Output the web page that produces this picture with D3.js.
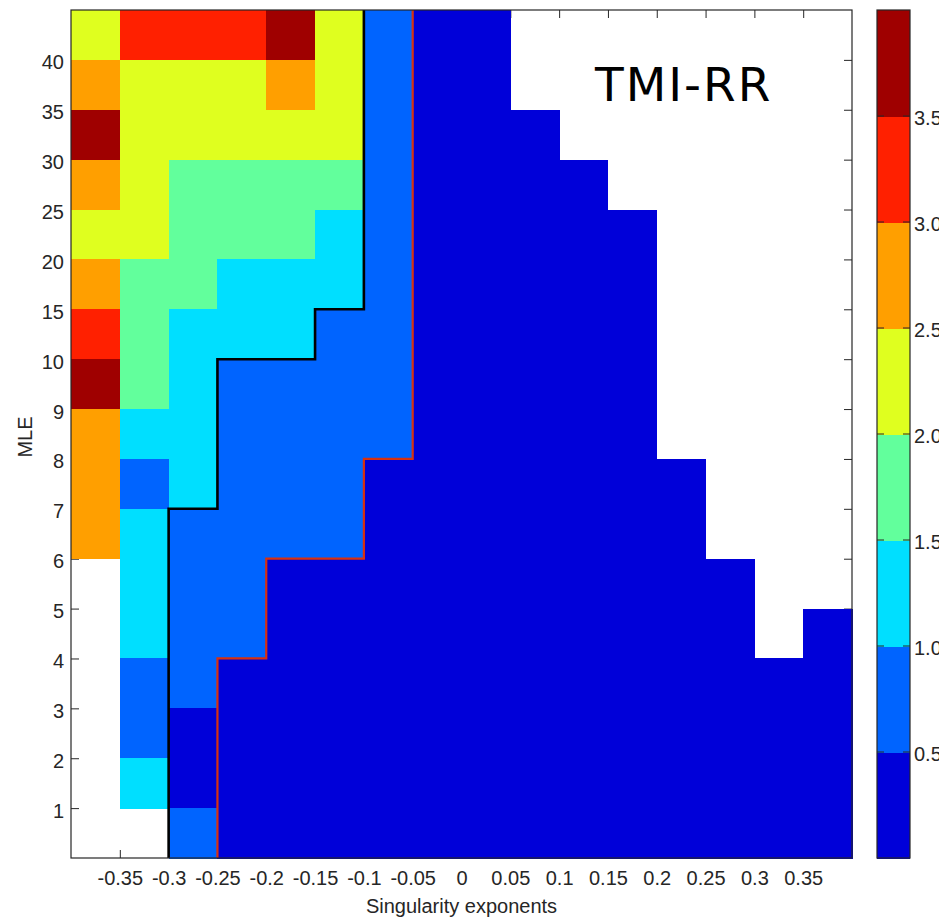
<!DOCTYPE html>
<html>
<head>
<meta charset="utf-8">
<script src="https://cdn.jsdelivr.net/npm/d3@7/dist/d3.min.js"></script>
<style>
  body { margin: 0; background: #ffffff; }
  svg text { font-family: "Liberation Sans", Arial, Helvetica, sans-serif; fill: #262626; }
</style>
</head>
<body>
<svg class="svg-content" width="939" height="920"></svg>
<script>
// column starts (singularity exponent bins, 0.05 wide)
const binStarts = [-0.4, -0.35, -0.3, -0.25, -0.2, -0.15, -0.1, -0.05, 0, 0.05, 0.1, 0.15, 0.2, 0.25, 0.3, 0.35];
const binWidth = 0.05;
const xTicks = [-0.35, -0.3, -0.25, -0.2, -0.15, -0.1, -0.05, 0, 0.05, 0.1, 0.15, 0.2, 0.25, 0.3, 0.35];

// MLE rows, tick labels sit on row boundaries 1..16
const yTickLabels = ["1", "2", "3", "4", "5", "6", "7", "8", "9", "10", "15", "20", "25", "30", "35", "40"];

// cell values, top row first (null = no data)
const cellRows = [
  [2.25, 3.25, 3.25, 3.25, 3.75, 2.25, 0.75, 0.25, 0.25, null, null, null, null, null, null, null],
  [2.75, 2.25, 2.25, 2.25, 2.75, 2.25, 0.75, 0.25, 0.25, null, null, null, null, null, null, null],
  [3.75, 2.25, 2.25, 2.25, 2.25, 2.25, 0.75, 0.25, 0.25, 0.25, null, null, null, null, null, null],
  [2.75, 2.25, 1.75, 1.75, 1.75, 1.75, 0.75, 0.25, 0.25, 0.25, 0.25, null, null, null, null, null],
  [2.25, 2.25, 1.75, 1.75, 1.75, 1.25, 0.75, 0.25, 0.25, 0.25, 0.25, 0.25, null, null, null, null],
  [2.75, 1.75, 1.75, 1.25, 1.25, 1.25, 0.75, 0.25, 0.25, 0.25, 0.25, 0.25, null, null, null, null],
  [3.25, 1.75, 1.25, 1.25, 1.25, 0.75, 0.75, 0.25, 0.25, 0.25, 0.25, 0.25, null, null, null, null],
  [3.75, 1.75, 1.25, 0.75, 0.75, 0.75, 0.75, 0.25, 0.25, 0.25, 0.25, 0.25, null, null, null, null],
  [2.75, 1.25, 1.25, 0.75, 0.75, 0.75, 0.75, 0.25, 0.25, 0.25, 0.25, 0.25, null, null, null, null],
  [2.75, 0.75, 1.25, 0.75, 0.75, 0.75, 0.25, 0.25, 0.25, 0.25, 0.25, 0.25, 0.25, null, null, null],
  [2.75, 1.25, 0.75, 0.75, 0.75, 0.75, 0.25, 0.25, 0.25, 0.25, 0.25, 0.25, 0.25, null, null, null],
  [null, 1.25, 0.75, 0.75, 0.25, 0.25, 0.25, 0.25, 0.25, 0.25, 0.25, 0.25, 0.25, 0.25, null, null],
  [null, 1.25, 0.75, 0.75, 0.25, 0.25, 0.25, 0.25, 0.25, 0.25, 0.25, 0.25, 0.25, 0.25, null, 0.25],
  [null, 0.75, 0.75, 0.25, 0.25, 0.25, 0.25, 0.25, 0.25, 0.25, 0.25, 0.25, 0.25, 0.25, 0.25, 0.25],
  [null, 0.75, 0.25, 0.25, 0.25, 0.25, 0.25, 0.25, 0.25, 0.25, 0.25, 0.25, 0.25, 0.25, 0.25, 0.25],
  [null, 1.25, 0.25, 0.25, 0.25, 0.25, 0.25, 0.25, 0.25, 0.25, 0.25, 0.25, 0.25, 0.25, 0.25, 0.25],
  [null, null, 0.75, 0.25, 0.25, 0.25, 0.25, 0.25, 0.25, 0.25, 0.25, 0.25, 0.25, 0.25, 0.25, 0.25]
];

const jetColors = ["#0000d9", "#0064ff", "#00dfff", "#62ff9c", "#dfff1f", "#ff9f00", "#ff2000", "#9f0000"];
const colorTicks = [0.5, 1.0, 1.5, 2.0, 2.5, 3.0, 3.5];

// boundary lines (x in exponent units, y in row units)
const blackX = [-0.3, -0.3, -0.25, -0.25, -0.15, -0.15, -0.1, -0.1];
const blackY = [0, 7, 7, 10, 10, 11, 11, 17];
const redX = [-0.25, -0.25, -0.2, -0.2, -0.1, -0.1, -0.05, -0.05];
const redY = [0, 4, 4, 6, 6, 8, 8, 17];

const plotLeft = 71, plotRight = 852, plotTop = 10, plotBottom = 858;
const nRows = cellRows.length;

let svg = d3.select(".svg-content");

let x = d3.scaleLinear()
          .domain([-0.4, 0.4])
          .range([plotLeft, plotRight]);

let y = d3.scaleLinear()
          .domain([0, nRows])
          .range([plotBottom, plotTop]);

let color = d3.scaleQuantize()
              .domain([0, 4])
              .range(jetColors);

let yTickValues = d3.range(1, nRows);

// ticks go under the cells, like matlab's bottom layer
svg.append("g")
   .attr("transform", "translate(0," + plotBottom + ")")
   .call(d3.axisBottom(x)
           .tickValues(xTicks)
           .tickSizeInner(-8)
           .tickSizeOuter(0)
           .tickPadding(13)
           .tickFormat(d => {
             return String(+d.toFixed(2));
           }))
   .call(g => g.select(".domain").remove())
   .attr("font-size", 20)
   .attr("font-family", null)
   .attr("color", "#262626");

svg.append("g")
   .attr("transform", "translate(" + plotLeft + ",0)")
   .call(d3.axisLeft(y)
           .tickValues(yTickValues)
           .tickSizeInner(-8)
           .tickSizeOuter(0)
           .tickPadding(7)
           .tickFormat((d, i) => {
             return yTickLabels[i];
           }))
   .call(g => g.select(".domain").remove())
   .call(g => g.selectAll("text").attr("dy", "0.45em"))
   .attr("font-size", 20)
   .attr("font-family", null)
   .attr("color", "#262626");

svg.append("g")
   .attr("transform", "translate(0," + plotTop + ")")
   .call(d3.axisTop(x)
           .tickValues(xTicks)
           .tickSizeInner(-8)
           .tickSizeOuter(0)
           .tickFormat(""))
   .call(g => g.select(".domain").remove())
   .attr("color", "#262626");

svg.append("g")
   .attr("transform", "translate(" + plotRight + ",0)")
   .call(d3.axisRight(y)
           .tickValues(yTickValues)
           .tickSizeInner(-8)
           .tickSizeOuter(0)
           .tickFormat(""))
   .call(g => g.select(".domain").remove())
   .attr("color", "#262626");

let cells = [];
cellRows.forEach((row, i) => {
  row.forEach((value, j) => {
    if (value !== null) {
      cells.push({ row: nRows - 1 - i, start: binStarts[j], value: value });
    }
  });
});

svg.append("g")
   .attr("shape-rendering", "crispEdges")
   .selectAll("rect")
   .data(cells)
   .enter()
   .append("rect")
   .attr("x", d => {
     return x(d["start"]);
   })
   .attr("y", d => {
     return y(d["row"] + 1);
   })
   .attr("width", d => {
     return x(d["start"] + binWidth) - x(d["start"]) + 0.5;
   })
   .attr("height", d => {
     return y(d["row"]) - y(d["row"] + 1) + 0.5;
   })
   .attr("fill", d => {
     return color(d["value"]);
   });

let line = d3.line()
             .x(d => x(d[0]))
             .y(d => y(d[1]));

svg.append("path")
   .datum(d3.zip(redX, redY))
   .attr("d", line)
   .attr("fill", "none")
   .attr("stroke", "#d8310f")
   .attr("stroke-width", 2.2);

svg.append("path")
   .datum(d3.zip(blackX, blackY))
   .attr("d", line)
   .attr("fill", "none")
   .attr("stroke", "#000000")
   .attr("stroke-width", 2.6);

// axes box
svg.append("rect")
   .attr("x", plotLeft)
   .attr("y", plotTop)
   .attr("width", plotRight - plotLeft)
   .attr("height", plotBottom - plotTop)
   .attr("fill", "none")
   .attr("stroke", "#262626")
   .attr("stroke-width", 1.2);

svg.append("text")
   .attr("x", (plotLeft + plotRight) / 2)
   .attr("y", 913)
   .attr("text-anchor", "middle")
   .attr("font-size", 20)
   .text("Singularity exponents");

svg.append("text")
   .attr("transform", "translate(32," + ((plotTop + plotBottom) / 2 + 3) + ") rotate(-90)")
   .attr("text-anchor", "middle")
   .attr("font-size", 20)
   .text("MLE");

svg.append("text")
   .attr("x", 595)
   .attr("y", 101)
   .attr("font-size", 47)
   .attr("letter-spacing", 2)
   .style("font-family", "'DejaVu Sans', sans-serif")
   .style("fill", "#000000")
   .text("TMI-RR");

// colorbar
let cbLeft = 877, cbRight = 910;
let cbScale = d3.scaleLinear()
                .domain(color.domain())
                .range([plotBottom, plotTop]);

svg.append("g")
   .attr("shape-rendering", "crispEdges")
   .selectAll("rect")
   .data(jetColors)
   .enter()
   .append("rect")
   .attr("x", cbLeft)
   .attr("y", d => {
     return cbScale(color.invertExtent(d)[1]);
   })
   .attr("width", cbRight - cbLeft)
   .attr("height", d => {
     let ext = color.invertExtent(d);
     return cbScale(ext[0]) - cbScale(ext[1]) + 0.5;
   })
   .attr("fill", d => d);

let cbTick = svg.append("g")
                .selectAll("g")
                .data(colorTicks)
                .enter()
                .append("g")
                .attr("transform", d => {
                  return "translate(0," + cbScale(d) + ")";
                });

cbTick.append("line")
      .attr("x1", cbLeft)
      .attr("x2", cbLeft + 7)
      .attr("stroke", "#262626");

cbTick.append("line")
      .attr("x1", cbRight - 7)
      .attr("x2", cbRight)
      .attr("stroke", "#262626");

// labels run past the right edge, as in the original figure
cbTick.append("text")
      .attr("x", cbRight + 4)
      .attr("dy", "0.45em")
      .attr("font-size", 20)
      .text(d => d.toFixed(1));

svg.append("rect")
   .attr("x", cbLeft)
   .attr("y", plotTop)
   .attr("width", cbRight - cbLeft)
   .attr("height", plotBottom - plotTop)
   .attr("fill", "none")
   .attr("stroke", "#262626")
   .attr("stroke-width", 1.2);
</script>
</body>
</html>
